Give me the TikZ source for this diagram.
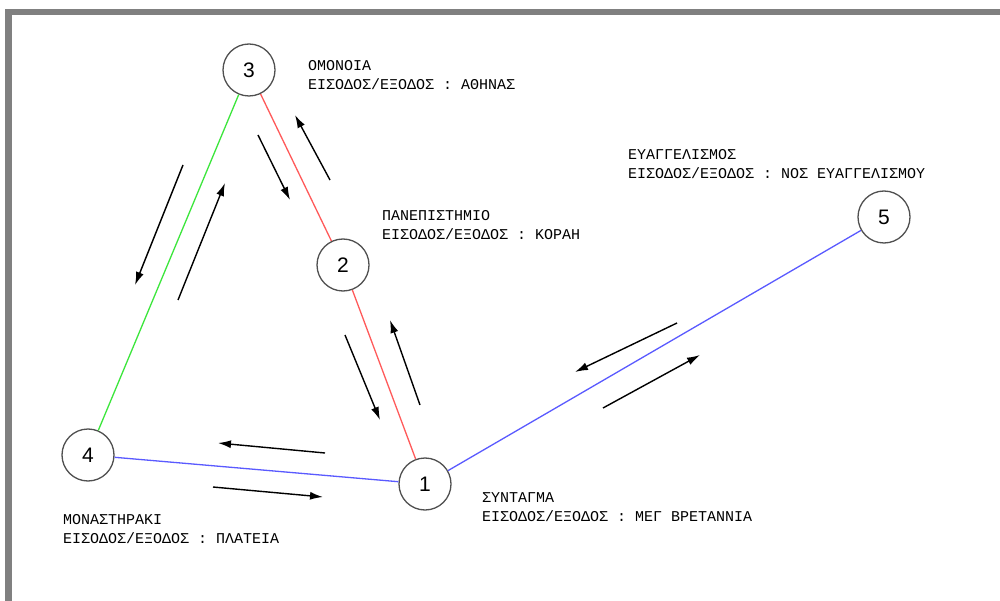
\documentclass[tikz,border=0pt]{standalone}
\usepackage{fontspec}
\setmainfont{Liberation Sans}
\newfontfamily\monof{Liberation Mono}
\usetikzlibrary{arrows.meta}
\definecolor{framegray}{HTML}{808080}
\definecolor{ringgray}{HTML}{505050}
\definecolor{lred}{HTML}{FF5A5A}
\definecolor{lgreen}{HTML}{3CE63C}
\definecolor{lblue}{HTML}{5A5AFF}
\begin{document}
\begin{tikzpicture}[x=1pt,y=-1pt,
  station/.style={circle, draw=ringgray, line width=1.3pt, minimum size=52pt, inner sep=0pt, fill=white, font=\fontsize{21}{21}\selectfont},
  lbl/.style={anchor=west, inner sep=0pt, align=left, font=\monof\fontsize{15}{19.5}\selectfont},
  edge/.style={line width=1.3pt},
  flow/.style={line width=1.4pt, -{Latex[length=13pt,width=8pt]}}]
\useasboundingbox (0,0) rectangle (1000,601);
\fill[white] (0,0) rectangle (1000,601);
\fill[framegray] (5,9) rectangle (1000,15);
\fill[framegray] (5,9) rectangle (12,601);

% stations
\node[station] (n3) at (249,70) {3};
\node[station] (n2) at (343,265) {2};
\node[station] (n4) at (88,455) {4};
\node[station] (n1) at (425,484) {1};
\node[station] (n5) at (884,217) {5};

% lines
\draw[edge, lred] (n3) -- (n2);
\draw[edge, lred] (n2) -- (n1);
\draw[edge, lgreen] (n3) -- (n4);
\draw[edge, lblue] (n4) -- (n1);
\draw[edge, lblue] (n1) -- (n5);

% flow arrows
\coordinate (a1s) at (258,135); \coordinate (a1e) at (290,200);
\coordinate (a2s) at (330,180); \coordinate (a2e) at (295,115);
\coordinate (b1s) at (345,335); \coordinate (b1e) at (380,420);
\coordinate (b2s) at (420,405); \coordinate (b2e) at (390,320);
\coordinate (c1s) at (183,165); \coordinate (c1e) at (135,285);
\coordinate (c2s) at (178,300); \coordinate (c2e) at (225,183);
\coordinate (d1s) at (325,453); \coordinate (d1e) at (218,443);
\coordinate (d2s) at (213,487); \coordinate (d2e) at (323,497);
\coordinate (e1s) at (677,323); \coordinate (e1e) at (575,372);
\coordinate (e2s) at (603,408); \coordinate (e2e) at (700,355);
\draw[flow] (a1s) -- (a1e);
\draw[flow] (a2s) -- (a2e);
\draw[flow] (b1s) -- (b1e);
\draw[flow] (b2s) -- (b2e);
\draw[flow] (c1s) -- (c1e);
\draw[flow] (c2s) -- (c2e);
\draw[flow] (d1s) -- (d1e);
\draw[flow] (d2s) -- (d2e);
\draw[flow] (e1s) -- (e1e);
\draw[flow] (e2s) -- (e2e);

% labels
\node[lbl] (t3) at (308,75) {ΟΜΟΝΟΙΑ\\ΕΙΣΟΔΟΣ/ΕΞΟΔΟΣ : ΑΘΗΝΑΣ};
\node[lbl] (t2) at (382,225) {ΠΑΝΕΠΙΣΤΗΜΙΟ\\ΕΙΣΟΔΟΣ/ΕΞΟΔΟΣ : ΚΟΡΑΗ};
\node[lbl] (t5) at (628,164) {ΕΥΑΓΓΕΛΙΣΜΟΣ\\ΕΙΣΟΔΟΣ/ΕΞΟΔΟΣ : ΝΟΣ ΕΥΑΓΓΕΛΙΣΜΟΥ};
\node[lbl] (t1) at (482,507) {ΣΥΝΤΑΓΜΑ\\ΕΙΣΟΔΟΣ/ΕΞΟΔΟΣ : ΜΕΓ ΒΡΕΤΑΝΝΙΑ};
\node[lbl] (t4) at (63,529) {ΜΟΝΑΣΤΗΡΑΚΙ\\ΕΙΣΟΔΟΣ/ΕΞΟΔΟΣ : ΠΛΑΤΕΙΑ};
\end{tikzpicture}
\end{document}
